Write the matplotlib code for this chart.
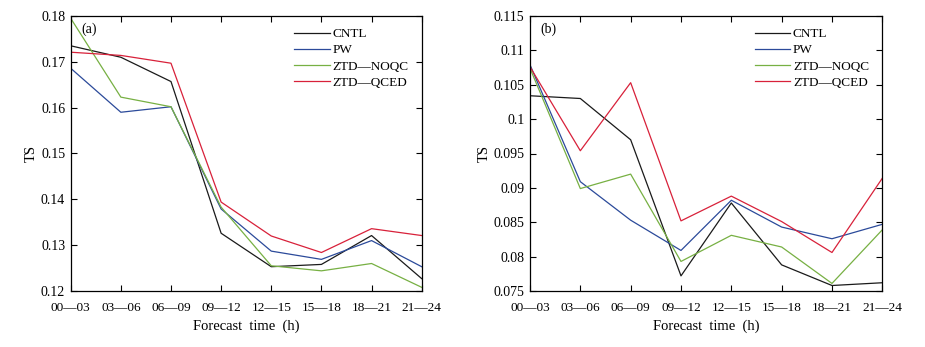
"""TS scores by forecast time for the four experiments."""

import matplotlib

matplotlib.use("Agg")
import matplotlib.pyplot as plt

# Data
forecast_times = ["00\u201403", "03\u201406", "06\u201409", "09\u201412",
                  "12\u201415", "15\u201418", "18\u201421", "21\u201424"]

cntl_a = [0.1735, 0.1710, 0.1657, 0.1326, 0.1253, 0.1258, 0.1321, 0.1227]
pw_a = [0.1686, 0.1590, 0.1602, 0.1379, 0.1287, 0.1269, 0.1310, 0.1253]
noqc_a = [0.1795, 0.1623, 0.1602, 0.1383, 0.1255, 0.1244, 0.1260, 0.1208]
qced_a = [0.1721, 0.1714, 0.1697, 0.1394, 0.1320, 0.1284, 0.1336, 0.1321]

cntl_b = [0.1034, 0.1030, 0.0970, 0.0772, 0.0878, 0.0788, 0.0758, 0.0762]
pw_b = [0.1079, 0.0909, 0.0853, 0.0809, 0.0882, 0.0843, 0.0826, 0.0847]
noqc_b = [0.1074, 0.0899, 0.0920, 0.0793, 0.0831, 0.0814, 0.0761, 0.0839]
qced_b = [0.1076, 0.0954, 0.1053, 0.0852, 0.0888, 0.0851, 0.0806, 0.0914]

series_names = ["CNTL", "PW", "ZTD\u2014NOQC", "ZTD\u2014QCED"]
series_colors = ["#1a1a1a", "#2b4a9a", "#77b043", "#d8213a"]

plt.rcParams["font.family"] = ["Liberation Serif", "DejaVu Serif"]
plt.rcParams["font.size"] = 9

fig = plt.figure(figsize=(9.25, 3.47), dpi=100)
ax_a = fig.add_axes([70.7 / 925, 1 - 291 / 347, 351 / 925, 275 / 347])
ax_b = fig.add_axes([530 / 925, 1 - 291 / 347, 352.3 / 925, 275 / 347])

panels = [
    (ax_a, [cntl_a, pw_a, noqc_a, qced_a], "(a)", (0.12, 0.18),
     [0.12, 0.13, 0.14, 0.15, 0.16, 0.17, 0.18],
     ["0.12", "0.13", "0.14", "0.15", "0.16", "0.17", "0.18"]),
    (ax_b, [cntl_b, pw_b, noqc_b, qced_b], "(b)", (0.075, 0.115),
     [0.075, 0.08, 0.085, 0.09, 0.095, 0.1, 0.105, 0.11, 0.115],
     ["0.075", "0.08", "0.085", "0.09", "0.095", "0.1", "0.105", "0.11",
      "0.115"]),
]

x = list(range(len(forecast_times)))
for axis, values, tag, ylim, yticks, ylabels in panels:
    for vals, name, color in zip(values, series_names, series_colors):
        axis.plot(x, vals, color=color, linewidth=0.9, label=name)

    # Prettifying
    axis.set_xlim(0, len(x) - 1)
    axis.set_ylim(*ylim)
    axis.set_xticks(x)
    axis.set_xticklabels(forecast_times, fontsize=9.5)
    axis.set_yticks(yticks)
    axis.set_yticklabels(ylabels, fontsize=10)
    axis.tick_params(direction="in", top=True, right=True, length=4,
                     width=0.8)
    axis.tick_params(axis="x", pad=8)
    axis.tick_params(axis="y", pad=4)
    for spine in axis.spines.values():
        spine.set_linewidth(0.9)
    axis.set_xlabel("Forecast  time  (h)", fontsize=10.5, labelpad=4)
    axis.set_ylabel("TS", fontsize=10.5, labelpad=2)
    axis.text(0.03, 0.975, tag, transform=axis.transAxes, ha="left",
              va="top", fontsize=10)
    axis.legend(loc="upper right", bbox_to_anchor=(0.985, 0.985),
                frameon=False, handlelength=2.7, handletextpad=0.2,
                labelspacing=0.3, borderaxespad=0.2, fontsize=9.5)

fig.savefig("out.png", dpi=100)
